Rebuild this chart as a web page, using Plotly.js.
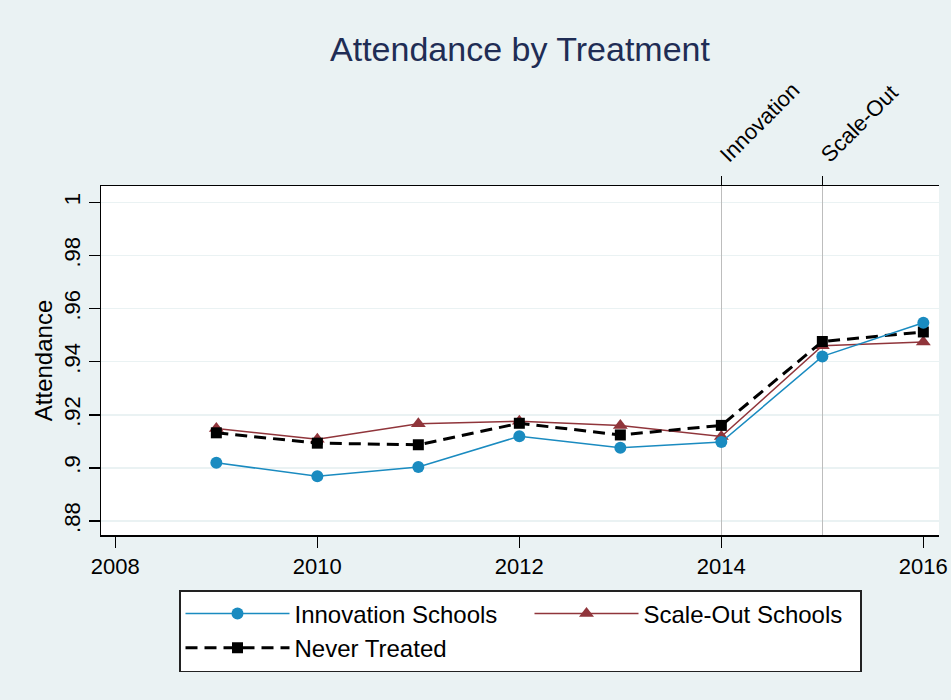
<!DOCTYPE html>
<html>
<head>
<meta charset="utf-8">
<script src="https://cdn.plot.ly/plotly-3.0.1.min.js"></script>
<style>html,body{margin:0;padding:0;background:#EAF2F3;}</style>
</head>
<body>
<div id="chart" style="width:951px;height:700px;"></div>
<script>
var years = [2009, 2010, 2011, 2012, 2013, 2014, 2015, 2016];
var innovation = [0.9019, 0.8968, 0.9003, 0.9119, 0.9076, 0.9097, 0.9420, 0.9547];
var scaleOut   = [0.9148, 0.9108, 0.9166, 0.9176, 0.9160, 0.9118, 0.9460, 0.9474];
var neverTreated = [0.9132, 0.9093, 0.9087, 0.9168, 0.9124, 0.9160, 0.9476, 0.9512];
var seriesNames = ['Innovation Schools', 'Scale-Out Schools', 'Never Treated'];
var xTicks = [2008, 2010, 2012, 2014, 2016];
var yTicks = [0.88, 0.90, 0.92, 0.94, 0.96, 0.98, 1.00];
var yTickText = ['.88', '.9', '.92', '.94', '.96', '.98', '1'];
var eventYears = [2014, 2015];
var eventLabels = ['Innovation', 'Scale-Out'];

var FONT = 'Liberation Sans, Arial, Helvetica, sans-serif';
var xRange = [2007.858, 2016.155];

var traces = [
  {x: years, y: innovation, name: seriesNames[0], type: 'scatter', mode: 'lines+markers', xaxis: 'x2',
   line: {color: '#1a8bc0', width: 1.5}, marker: {symbol: 'circle', size: 12, color: '#1a8bc0'}},
  {x: years, y: scaleOut, name: seriesNames[1], type: 'scatter', mode: 'lines+markers',
   line: {color: '#90353b', width: 1.5}, marker: {symbol: 'triangle-up', size: 13, color: '#90353b'}},
  {x: years, y: neverTreated, name: seriesNames[2], type: 'scatter', mode: 'lines+markers',
   line: {color: '#000000', width: 3, dash: '12px,7px'}, marker: {symbol: 'square', size: 11, color: '#000000'}}
];

var layout = {
  width: 951, height: 700,
  paper_bgcolor: '#EAF2F3', plot_bgcolor: '#FFFFFF',
  font: {family: FONT, color: '#000000'},
  margin: {l: 101, r: 12, t: 186, b: 165, pad: 0},
  title: {text: 'Attendance by Treatment', font: {family: FONT, size: 34, color: '#1f2d55'},
          x: 0.5, xref: 'paper', y: 1 - 49/700, yref: 'container', yanchor: 'middle'},
  xaxis: {range: xRange, tickvals: xTicks, ticks: 'outside', ticklen: 11, tickwidth: 1.5, tickcolor: '#000',
          showline: true, linecolor: '#000', linewidth: 1.5, showgrid: false, zeroline: false,
          tickfont: {size: 22, color: '#000'}},
  xaxis2: {range: xRange, overlaying: 'x', side: 'top', tickvals: eventYears, ticktext: eventLabels,
           tickangle: -45, ticks: 'outside', ticklen: 9, tickwidth: 1.5, tickcolor: '#000',
           showline: true, linecolor: '#000', linewidth: 1.5, showgrid: true, gridcolor: '#bdbdbd', gridwidth: 1.5,
           zeroline: false, tickfont: {size: 22, color: '#000'}},
  yaxis: {range: [0.8747, 1.0062], tickvals: yTicks, ticktext: yTickText, tickangle: -90,
          ticks: 'outside', ticklen: 11, tickwidth: 1.5, tickcolor: '#000',
          showline: true, linecolor: '#000', linewidth: 1.5, showgrid: true, gridcolor: '#EAF2F3', gridwidth: 1.5,
          zeroline: false, tickfont: {size: 22, color: '#000'},
          title: {text: 'Attendance', font: {size: 24, color: '#000'}, standoff: 0}},
  legend: {orientation: 'h', xref: 'container', yref: 'container', x: 179/951, y: 1 - 590/700,
           xanchor: 'left', yanchor: 'top', bgcolor: '#FFFFFF', bordercolor: '#222', borderwidth: 1.5,
           font: {size: 24, color: '#000'}, itemwidth: 104, entrywidth: 230, entrywidthmode: 'pixels',
           traceorder: 'normal'},
  showlegend: true
};

Plotly.newPlot('chart', traces, layout, {displayModeBar: false, staticPlot: true}).then(function (gd) {
  // trim the legend frame so its right edge sits where the reference's does
  var bg = gd.querySelector('.legend rect.bg');
  if (bg) {
    var w = parseFloat(bg.getAttribute('width'));
    var box = bg.getBoundingClientRect();
    var target = 861 - box.left;
    if (target > 0) bg.setAttribute('width', target);
  }
});
</script>
</body>
</html>
